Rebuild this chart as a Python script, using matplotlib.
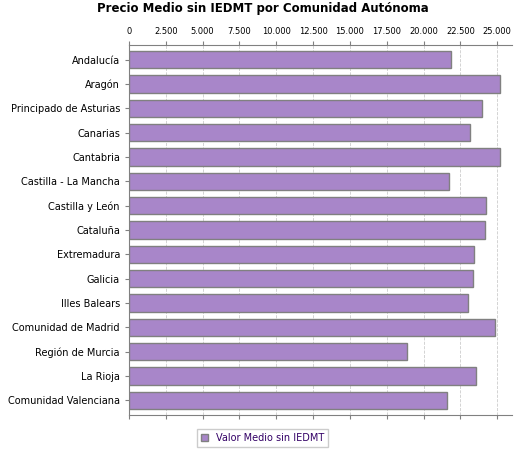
import matplotlib
matplotlib.use("Agg")
import matplotlib.pyplot as plt
from matplotlib.ticker import FuncFormatter, MultipleLocator

regions = ["Andalucía","Aragón","Principado de Asturias","Canarias","Cantabria",
           "Castilla - La Mancha","Castilla y León","Cataluña","Extremadura","Galicia",
           "Illes Balears","Comunidad de Madrid","Región de Murcia","La Rioja","Comunidad Valenciana"]
values = [21850,25200,23930,23170,25200,21720,24260,24200,23390,23330,23000,24870,18840,23590,21590]

fig = plt.figure(figsize=(5.25,4.5), dpi=100)
ax = fig.add_axes([129/525, 1-415/450, 383/525, 370/450])
y = list(range(len(regions)))
ax.barh(y, values, height=0.72, color="#a886c9", edgecolor="#808080", linewidth=1, zorder=3)
ax.set_ylim(len(regions)-0.4, -0.6)
ax.set_xlim(0, 26000)
ax.set_yticks(y)
ax.set_yticklabels(regions, fontsize=7)
ax.xaxis.set_major_locator(MultipleLocator(2500))
ax.xaxis.set_major_formatter(FuncFormatter(lambda v,p: f"{int(v):,}".replace(",",".")))
ax.xaxis.tick_top()
ax.tick_params(axis="x", labelsize=6, top=True, bottom=True, length=3, color="#808080")
ax.tick_params(axis="y", length=3, color="#808080")
ax.grid(axis="x", color="#cccccc", linestyle="--", linewidth=0.6, zorder=0)
for s in ["right"]:
    ax.spines[s].set_visible(False)
for s in ["top","bottom","left"]:
    ax.spines[s].set_color("#808080")
ax.set_facecolor("white")
fig.suptitle("Precio Medio sin IEDMT por Comunidad Autónoma", x=0.5, y=0.995, fontsize=8.5, fontweight="bold")
leg = fig.legend(handles=[plt.Rectangle((0,0),1,1,fc="#a886c9",ec="#808080")], labels=["Valor Medio sin IEDMT"],
           loc="center", bbox_to_anchor=(0.5, 1-438/450), fontsize=7, frameon=True, fancybox=False,
           edgecolor="#c0c0c0", handlelength=0.8, handleheight=0.8)
for t in leg.get_texts():
    t.set_color("#330066")
fig.savefig("out.png", dpi=100)
